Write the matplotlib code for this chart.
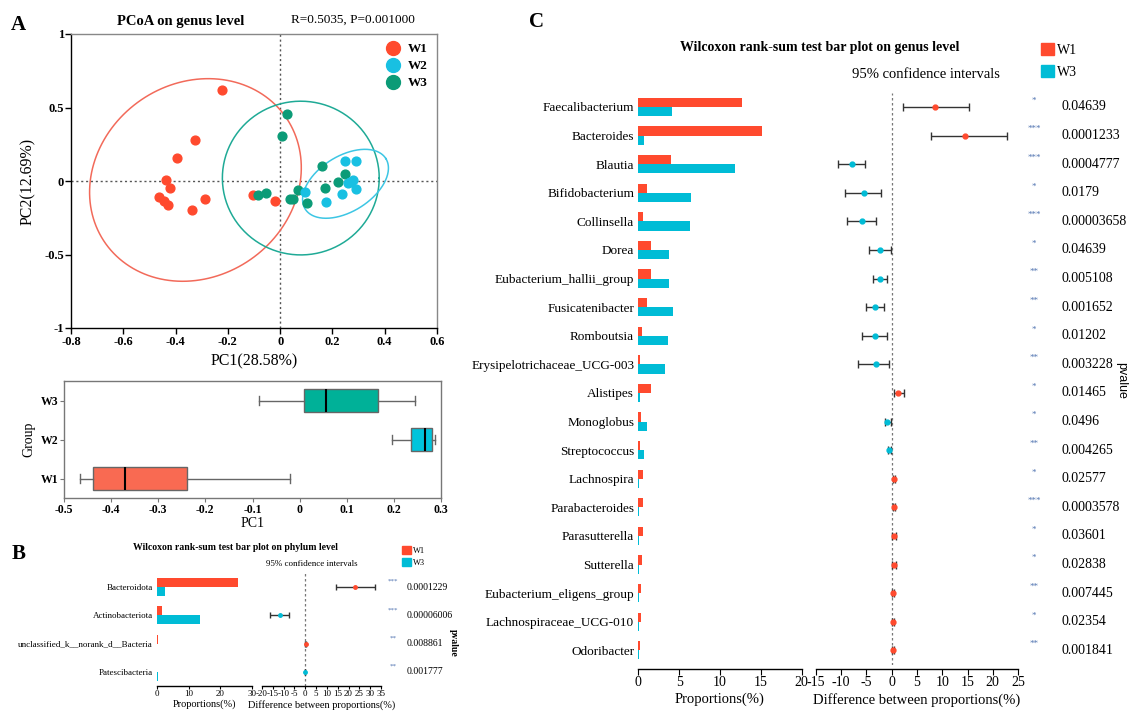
import numpy as np
import matplotlib.pyplot as plt
from matplotlib.patches import Patch
from matplotlib.lines import Line2D
from matplotlib.transforms import blended_transform_factory

plt.rcParams['font.family'] = ['Liberation Serif', 'DejaVu Serif']
plt.rcParams['axes.linewidth'] = 1.0
plt.rcParams['axes.unicode_minus'] = False

# ---------------- data ----------------
# A: PCoA on genus level (PC1, PC2) per group
w1_pc1 = [-0.221, -0.327, -0.395, -0.437, -0.422, -0.464, -0.444, -0.429, -0.339, -0.287, -0.102, -0.018]
w1_pc2 = [0.622, 0.276, 0.158, 0.005, -0.048, -0.111, -0.133, -0.161, -0.197, -0.120, -0.093, -0.133]
w2_pc1 = [0.094, 0.177, 0.236, 0.249, 0.291, 0.260, 0.277, 0.292, 0.268]
w2_pc2 = [-0.072, -0.145, -0.086, 0.136, 0.136, -0.016, 0.005, -0.054, -0.007]
w3_pc1 = [0.026, 0.009, -0.085, -0.055, 0.070, 0.036, 0.048, 0.103, 0.161, 0.171, 0.221, 0.249]
w3_pc2 = [0.459, 0.305, -0.093, -0.079, -0.059, -0.120, -0.124, -0.152, 0.102, -0.050, -0.009, 0.048]

# confidence ellipses: centre x, centre y, semi-axes (PC1 units), angle
ell_w1 = (-0.324, 0.007, 0.421, 0.370, 35)
ell_w2 = (0.250, -0.019, 0.182, 0.106, 32)
ell_w3 = (0.079, 0.020, 0.300, 0.294, 0)

# PC1 box plot stats (whislo, q1, med, q3, whishi)
box_groups = ['W1', 'W2', 'W3']
box_stats = [(-0.466, -0.438, -0.371, -0.240, -0.021),
             (0.196, 0.236, 0.265, 0.281, 0.288),
             (-0.087, 0.009, 0.055, 0.166, 0.245)]

# B: phylum level
phyla = ['Bacteroidota', 'Actinobacteriota', 'unclassified_k__norank_d__Bacteria', 'Patescibacteria']
phylum_w1 = [25.5, 1.7, 0.3, 0.02]
phylum_w3 = [2.5, 13.5, 0.02, 0.2]
phylum_diff = [23.1, -11.6, 0.2, -0.1]
phylum_lo = [14.4, -16.5, 0.1, -0.2]
phylum_hi = [32.4, -7.3, 0.3, 0.0]
phylum_p = ['0.0001229', '0.00006006', '0.008861', '0.001777']
phylum_stars = ['***', '***', '**', '**']

# C: genus level
genera = ['Faecalibacterium', 'Bacteroides', 'Blautia', 'Bifidobacterium', 'Collinsella',
          'Dorea', 'Eubacterium_hallii_group', 'Fusicatenibacter', 'Romboutsia',
          'Erysipelotrichaceae_UCG-003', 'Alistipes', 'Monoglobus', 'Streptococcus',
          'Lachnospira', 'Parabacteroides', 'Parasutterella', 'Sutterella',
          'Eubacterium_eligens_group', 'Lachnospiraceae_UCG-010', 'Odoribacter']
genus_w1 = [12.7, 15.2, 4.0, 1.05, 0.6, 1.6, 1.5, 1.05, 0.4, 0.2, 1.5, 0.3, 0.25, 0.55,
            0.6, 0.55, 0.45, 0.35, 0.3, 0.25]
genus_w3 = [4.1, 0.7, 11.8, 6.4, 6.3, 3.8, 3.8, 4.2, 3.6, 3.25, 0.2, 1.0, 0.7, 0.1,
            0.05, 0.05, 0.04, 0.04, 0.03, 0.03]
genus_diff = [8.6, 14.6, -7.9, -5.5, -5.9, -2.4, -2.4, -3.3, -3.3, -3.2, 1.15, -0.9, -0.5,
              0.45, 0.45, 0.4, 0.4, 0.25, 0.2, 0.2]
genus_lo = [2.2, 7.8, -10.7, -9.3, -8.8, -4.6, -3.7, -5.0, -5.9, -6.6, 0.4, -1.4, -0.8,
            0.2, 0.2, 0.1, 0.1, 0.1, 0.05, 0.05]
genus_hi = [15.3, 22.8, -5.2, -2.2, -3.1, -0.2, -1.0, -1.5, -0.9, -0.6, 2.4, -0.2, -0.2,
            0.7, 0.7, 0.9, 0.8, 0.4, 0.35, 0.35]
genus_p = ['0.04639', '0.0001233', '0.0004777', '0.0179', '0.00003658', '0.04639',
           '0.005108', '0.001652', '0.01202', '0.003228', '0.01465', '0.0496', '0.004265',
           '0.02577', '0.0003578', '0.03601', '0.02838', '0.007445', '0.02354', '0.001841']
genus_stars = ['*', '***', '***', '*', '***', '*', '**', '**', '*', '**', '*', '*', '**',
               '*', '***', '*', '*', '**', '*', '**']

# colours
RED = '#FF4A2E'
CYAN = '#00BCD6'
STAR = '#4F72B0'

W, H = 1129, 711
fig = plt.figure(figsize=(W / 100, H / 100), dpi=100)


def px_rect(l, t, r, b):
    return [l / W, 1 - b / H, (r - l) / W, (b - t) / H]


# ---------------- A: PCoA ----------------
ax = fig.add_axes(px_rect(71, 34, 437, 328))
ax.set_xlim(-0.8, 0.6)
ax.set_ylim(-1, 1)
ax.axvline(0, color='#555555', ls=(0, (1.5, 2)), lw=1)
ax.axhline(0, color='#555555', ls=(0, (1.5, 2)), lw=1)

bb = ax.get_position()
k = (bb.width * W / 1.4) / (bb.height * H / 2.0)
t = np.linspace(0, 2 * np.pi, 300)
for (cx, cy, a, b, ang), col in [(ell_w1, '#F26A5A'), (ell_w3, '#1FAA96'), (ell_w2, '#3DC6E4')]:
    th = np.deg2rad(ang)
    ex = cx + a * np.cos(t) * np.cos(th) - b * np.sin(t) * np.sin(th)
    ey = cy + (a * np.cos(t) * np.sin(th) + b * np.sin(t) * np.cos(th)) * k
    ax.plot(ex, ey, color=col, lw=1.1)

ax.scatter(w1_pc1, w1_pc2, s=40, color=RED, zorder=3)
ax.scatter(w3_pc1, w3_pc2, s=40, color='#0B9B77', zorder=3)
ax.scatter(w2_pc1, w2_pc2, s=40, color='#18C0E2', zorder=3)

ax.set_xticks(np.round(np.arange(-0.8, 0.61, 0.2), 1))
ax.set_xticklabels(['-0.8', '-0.6', '-0.4', '-0.2', '0', '0.2', '0.4', '0.6'])
ax.set_yticks([-1, -0.5, 0, 0.5, 1])
ax.set_yticklabels(['-1', '-0.5', '0', '0.5', '1'])
for lab in ax.get_xticklabels() + ax.get_yticklabels():
    lab.set_fontweight('bold')
    lab.set_fontsize(9)
ax.tick_params(length=4, width=1, pad=2)
ax.tick_params(axis='y', pad=1)
for s in ['top', 'right']:
    ax.spines[s].set_color('#888888')
ax.set_xlabel('PC1(28.58%)', fontsize=11.5, labelpad=4)
ax.set_ylabel('PC2(12.69%)', fontsize=11.5, labelpad=6)
handles = [Line2D([], [], ls='none', marker='o', ms=10, color=RED),
           Line2D([], [], ls='none', marker='o', ms=10, color='#18C0E2'),
           Line2D([], [], ls='none', marker='o', ms=10, color='#0B9B77')]
ax.legend(handles, ['W1', 'W2', 'W3'], loc='upper right', frameon=False,
          prop={'weight': 'bold', 'size': 9.5}, handletextpad=0.1, labelspacing=0.35,
          borderaxespad=0.3)
fig.text(181 / W, 1 - 21 / H, 'PCoA on genus level', ha='center', va='center',
         fontsize=10.5, fontweight='bold')
fig.text(353 / W, 1 - 20 / H, 'R=0.5035, P=0.001000', ha='center', va='center', fontsize=9.5)
fig.text(18 / W, 1 - 25 / H, 'A', ha='center', va='center', fontsize=15, fontweight='bold')

# ---------------- A: PC1 box plot ----------------
axb = fig.add_axes(px_rect(64, 381, 441, 498))
stats = [dict(whislo=s[0], q1=s[1], med=s[2], q3=s[3], whishi=s[4], label=g)
         for s, g in zip(box_stats, box_groups)]
bp = axb.bxp(stats, positions=[1, 2, 3], widths=0.6, vert=False, patch_artist=True,
             showfliers=False,
             boxprops=dict(edgecolor='#666666', lw=1),
             whiskerprops=dict(color='#666666', lw=1),
             capprops=dict(color='#666666', lw=1),
             medianprops=dict(color='black', lw=1.5))
for patch, col in zip(bp['boxes'], ['#F96A52', '#00C4DC', '#00B198']):
    patch.set_facecolor(col)
for cap in bp['caps']:
    xd, yd = cap.get_data()
    c = np.mean(yd)
    cap.set_data(xd, [c - 0.12, c + 0.12])
axb.set_xlim(-0.5, 0.3)
axb.set_ylim(0.5, 3.5)
axb.set_xticks(np.round(np.arange(-0.5, 0.31, 0.1), 1))
axb.set_xticklabels(['-0.5', '-0.4', '-0.3', '-0.2', '-0.1', '0', '0.1', '0.2', '0.3'])
for lab in axb.get_xticklabels() + axb.get_yticklabels():
    lab.set_fontweight('bold')
    lab.set_fontsize(8.5)
for s in axb.spines.values():
    s.set_color('#777777')
axb.tick_params(length=3, color='#777777', pad=1)
axb.set_xlabel('PC1', fontsize=10, labelpad=1)
axb.set_ylabel('Group', fontsize=10, labelpad=4)


# ---------------- bar + CI panels ----------------
def wilcoxon_panel(ax_bar, ax_ci, names, v1, v3, diff, lo, hi, fs, ms, cap):
    n = len(names)
    y = np.arange(n)[::-1]
    ax_bar.barh(y + 0.16, v1, height=0.32, color=RED, edgecolor='none')
    ax_bar.barh(y - 0.16, v3, height=0.32, color=CYAN, edgecolor='none')
    ax_bar.set_yticks(y)
    ax_bar.set_yticklabels(names, fontsize=fs)
    ax_bar.set_ylim(-0.5, n - 0.5)
    ax_ci.set_ylim(-0.5, n - 0.5)
    ax_ci.axvline(0, color='#777777', ls=(0, (2, 2)), lw=0.9)
    for yi, d, l, h in zip(y, diff, lo, hi):
        ax_ci.errorbar(d, yi, xerr=[[d - l], [h - d]], fmt='none', ecolor='#333333',
                       elinewidth=1, capsize=cap, capthick=1)
        ax_ci.plot(d, yi, 'o', ms=ms, color=RED if d > 0 else CYAN, zorder=3)
    for a in (ax_bar, ax_ci):
        for s in ['top', 'right', 'left']:
            a.spines[s].set_visible(False)
        a.tick_params(axis='y', length=0, pad=3)
        a.tick_params(axis='x', length=3, pad=1, labelsize=fs)
    ax_ci.set_yticks([])


# ---------------- B ----------------
axB1 = fig.add_axes(px_rect(157, 573, 252, 686))
axB2 = fig.add_axes(px_rect(262, 573, 381, 686))
wilcoxon_panel(axB1, axB2, phyla, phylum_w1, phylum_w3, phylum_diff, phylum_lo, phylum_hi,
               6.5, 2.5, 2)
axB1.set_xlim(0, 30)
axB1.set_xticks([0, 10, 20, 30])
axB2.set_xlim(-20, 35)
axB2.set_xticks(np.arange(-20, 36, 5))
axB1.set_xlabel('Proportions(%)', fontsize=7.5, labelpad=1)
axB2.set_xlabel('Difference between proportions(%)', fontsize=7.5, labelpad=1)
for a in (axB1, axB2):
    a.tick_params(axis='x', labelsize=6.5, length=2)
trB = blended_transform_factory(fig.transFigure, axB2.transData)
for yi, st, p in zip(np.arange(len(phyla))[::-1], phylum_stars, phylum_p):
    axB2.text(393 / W, yi + 0.2, st, transform=trB, ha='center', va='center', fontsize=5,
              color=STAR)
    axB2.text(407 / W, yi, p, transform=trB, ha='left', va='center', fontsize=7)
fig.text(453 / W, 1 - 643 / H, 'pvalue', rotation=270, ha='center', va='center',
         fontsize=7, fontweight='bold')
fig.text(235 / W, 1 - 547 / H, 'Wilcoxon rank-sum test bar plot on phylum level',
         ha='center', va='center', fontsize=7, fontweight='bold')
fig.text(312 / W, 1 - 564 / H, '95% confidence intervals', ha='center', va='center',
         fontsize=6.5)
fig.legend([Patch(color=RED), Patch(color=CYAN)], ['W1', 'W3'], loc='upper left',
           bbox_to_anchor=(402 / W, 1 - 546 / H), frameon=False, fontsize=6,
           handlelength=1.1, handleheight=1.1, handletextpad=0.2, labelspacing=0.35,
           borderpad=0, borderaxespad=0)
fig.text(19 / W, 1 - 554 / H, 'B', ha='center', va='center', fontsize=15, fontweight='bold')

# ---------------- C ----------------
axC1 = fig.add_axes(px_rect(638.4, 92.7, 801.6, 664.6))
axC2 = fig.add_axes(px_rect(816, 92.7, 1018, 664.6))
wilcoxon_panel(axC1, axC2, genera, genus_w1, genus_w3, genus_diff, genus_lo, genus_hi,
               9.5, 3.5, 3)
axC1.set_xlim(0, 20)
axC1.set_xticks([0, 5, 10, 15, 20])
axC2.set_xlim(-15, 25)
axC2.set_xticks(np.arange(-15, 26, 5))
for a in (axC1, axC2):
    a.spines['bottom'].set_position(('outward', 3))
    a.tick_params(axis='x', labelsize=10, length=4, pad=1)
axC1.set_xlabel('Proportions(%)', fontsize=10.5, labelpad=3)
axC2.set_xlabel('Difference between proportions(%)', fontsize=10.5, labelpad=3)
trC = blended_transform_factory(fig.transFigure, axC2.transData)
for yi, st, p in zip(np.arange(len(genera))[::-1], genus_stars, genus_p):
    axC2.text(1034 / W, yi + 0.22, st, transform=trC, ha='center', va='center', fontsize=6.5,
              color=STAR)
    axC2.text(1061 / W, yi, p, transform=trC, ha='left', va='center', fontsize=10)
fig.text(1121 / W, 1 - 380 / H, 'pvalue', rotation=270, ha='center', va='center',
         fontsize=9, family=['Liberation Sans', 'DejaVu Sans'])
fig.text(820 / W, 1 - 47 / H, 'Wilcoxon rank-sum test bar plot on genus level',
         ha='center', va='center', fontsize=10, fontweight='bold')
fig.text(926 / W, 1 - 75 / H, '95% confidence intervals', ha='center', va='center',
         fontsize=10.5)
fig.legend([Patch(color=RED), Patch(color=CYAN)], ['W1', 'W3'], loc='upper left',
           bbox_to_anchor=(1041 / W, 1 - 43 / H), frameon=False, fontsize=10,
           handlelength=0.9, handleheight=1.0, handletextpad=0.25, labelspacing=0.55,
           borderpad=0, borderaxespad=0)
fig.text(537 / W, 1 - 22 / H, 'C', ha='center', va='center', fontsize=15, fontweight='bold')

fig.savefig('out.png', dpi=100)
